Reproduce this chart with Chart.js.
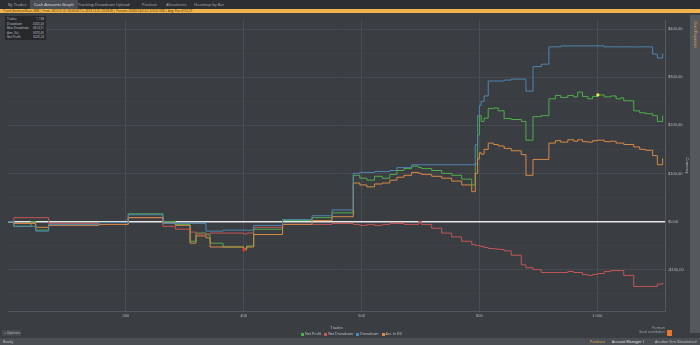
<!DOCTYPE html>
<html>
<head>
<meta charset="utf-8">
<script src="https://cdn.jsdelivr.net/npm/chart.js@4.4.0/dist/chart.umd.min.js"></script>
<style>
body { margin: 0; width: 700px; height: 345px; background: #3a3d42; overflow: hidden; position: relative; font-family: "Open Sans", Roboto, sans-serif; color: #c4c7cb; }
.tabs { position: absolute; left: 0; top: 0; width: 700px; height: 9px; background: #2c2e32; font-size: 4px; }
.tabs span { position: absolute; top: 0; height: 9px; line-height: 9px; padding: 0 4px; color: #b3b6ba; white-space: nowrap; }
.tabs span.on { background: #4a4d53; color: #e4e6e8; }
.bar { position: absolute; left: 0; top: 9px; width: 700px; height: 4px; background: #f1b44c; font-size: 3px; line-height: 4px; color: #3a2a10; padding-left: 3px; box-sizing: border-box; white-space: nowrap; }
.stats { position: absolute; left: 5px; top: 16px; width: 41px; height: 24px; background: #26282c; font-size: 3px; z-index: 2; padding-top: 1px; box-sizing: border-box; }
.stats div { display: flex; justify-content: space-between; padding: 0 2px; line-height: 4.5px; white-space: nowrap; }
.side { position: absolute; left: 690px; top: 15px; width: 10px; height: 318px; background: #55585d; }
.side span { position: absolute; left: 3px; top: 6px; writing-mode: vertical-rl; font-size: 3.5px; color: #f1b44c; white-space: nowrap; }
#wrap { position: absolute; left: 4px; top: 15px; width: 686px; height: 315px; }
.legend { position: absolute; left: 298px; top: 331px; font-size: 3.6px; color: #c4c7cb; white-space: nowrap; }
.legend i { display: inline-block; width: 3px; height: 3px; margin: 0 1px 0 3px; vertical-align: middle; }
.opt { position: absolute; left: 2px; top: 330px; width: 17px; height: 6px; background: #46494e; font-size: 3.6px; line-height: 6px; padding-left: 2px; white-space: nowrap; }
.badge { position: absolute; left: 620px; top: 327px; font-size: 3px; color: #a9acb0; text-align: right; width: 45px; line-height: 3.6px; white-space: nowrap; }
.ico { position: absolute; left: 667px; top: 330px; width: 5px; height: 6px; background: #e8772e; }
.status { position: absolute; left: 0; top: 338px; width: 700px; height: 7px; background: #4b4e53; font-size: 3.6px; line-height: 7px; }
.status span { position: absolute; top: 0; white-space: nowrap; }
</style>
</head>
<body>
<div class="tabs">
  <span style="left:4px">By Trades</span>
  <span class="on" style="left:30px">Cash Amounts Graph</span>
  <span style="left:74px">Tracking Drawdown</span>
  <span style="left:112px">Upload</span>
  <span style="left:138px">Position</span>
  <span style="left:162px">Allocations</span>
  <span style="left:190px">Heatmap by Bar</span>
</div>
<div class="bar">Trend_BacktestSheet 30M | From: 2015.01.01 00:00:00 To: 2019.12.31 23:59:00 | Params: 20/60/14/2.5/1.5/0.5/1000 | Avg. Pos: $152,37</div>
<div class="stats">
  <div><span>Trades</span><span>1 108</span></div>
  <div><span>Drawdown</span><span>-$263,43</span></div>
  <div><span>Max Drawdown</span><span>-$614,31</span></div>
  <div><span>Ann. Vol</span><span>$370,45</span></div>
  <div><span>Net Profit</span><span>$220,24</span></div>
</div>
<div id="wrap"><canvas id="chartProfit"></canvas></div>
<div class="side"><span>Chart Properties</span></div>
<div class="opt">+ Options</div>
<div class="legend"><i style="background:#4fae4b"></i>Net Profit<i style="background:#c45656"></i>Net Drawdown<i style="background:#4f86b0"></i>Drawdown<i style="background:#d88a45"></i>Act. In DD</div>
<div class="badge">Premium<br>Good contribution</div>
<div class="ico"></div>
<div class="status">
  <span style="left:3px">Ready</span>
  <span style="left:590px;color:#f1b44c">Positions</span>
  <span style="left:612px;color:#e4e6e8">Account Manager 1</span>
  <span style="left:655px">Another Sim (Simulation)</span>
</div>
<script>
// trade number at each sample
const trades = [0, 10, 39, 47, 69, 154, 204, 263, 284, 309, 319, 336, 343, 365, 400, 405, 417, 466, 516, 550,
  586, 597, 609, 622, 635, 648, 660, 672, 685, 697, 702, 719, 736, 753, 770, 787, 793, 797, 800, 803,
  808, 815, 824, 832, 842, 854, 871, 879, 891, 905, 918, 929, 938, 950, 960, 967, 975, 984, 992, 1001,
  1012, 1023, 1032, 1040, 1045, 1062, 1072, 1082, 1094, 1102, 1111];

const blueValues = [0, -10, -10, -20, -6, -2, 14, -4, -4, -4, -4, -20, -20, -18, -18, -18, -8, 4, 12, 24,
  100, 102, 102, 104, 104, 106, 112, 112, 118, 118, 118, 118, 118, 118, 118, 118, 160, 220, 241, 250,
  261, 292, 292, 292, 294, 296, 296, 271, 322, 327, 363, 363, 365, 365, 365, 365, 365, 365, 365, 365,
  363, 363, 363, 363, 363, 363, 363, 363, 348, 340, 349];

const greenValues = [0, -10, 0, -18, -6, -2, 16, 0, -6, -41, -24, -28, -45, -53, -59, -51, -16, 2, 8, 18,
  96, 90, 86, 94, 90, 98, 106, 110, 115, 112, 110, 106, 100, 96, 88, 76, 120, 180, 220, 208,
  215, 235, 236, 230, 214, 212, 208, 169, 218, 220, 255, 262, 258, 262, 259, 269, 260, 255, 260, 263,
  259, 261, 255, 257, 251, 230, 226, 224, 220, 208, 220];

const orangeValues = [0, -4, -4, -12, -8, -6, 8, -4, -8, -45, -30, -34, -53, -53, -57, -53, -27, -6, 2, 10,
  80, 76, 72, 78, 80, 86, 92, 96, 102, 100, 98, 94, 90, 84, 76, 62, 100, 130, 143, 140,
  150, 163, 160, 157, 152, 147, 139, 96, 129, 129, 163, 168, 165, 170, 167, 170, 166, 165, 168, 169,
  166, 167, 163, 163, 160, 155, 150, 148, 137, 118, 131];

const redValues = [0, 8, 8, 8, -4, -6, 8, -10, -16, -22, -26, -26, -24, -24, -26, -24, -12, -6, -6, -4,
  -6, -8, -6, -8, -6, -4, -4, -6, -6, 0, -6, -14, -24, -32, -41, -48, -50, -50, -51, -52,
  -54, -56, -57, -58, -61, -70, -90, -96, -100, -106, -106, -106, -106, -104, -106, -106, -110, -112, -110, -108,
  -104, -102, -102, -102, -112, -135, -135, -135, -135, -130, -127];

// markers: lowest and highest point of net profit
const markerTrades = [400, 1001];
const markerValues = [-59, 263];

const xTicks = [200, 400, 600, 800, 1000];

function points(values) {
    return trades.map((t, i) => ({ x: t, y: values[i] }));
}

const lineStyle = { stepped: true, borderWidth: 1, pointRadius: 0, fill: false };

const ctx = document.getElementById('chartProfit').getContext('2d');

const chart = new Chart(ctx, {
    type: 'line',
    data: {
        datasets: [
            { label: 'Markers', type: 'scatter',
              data: markerTrades.map((t, i) => ({ x: t, y: markerValues[i] })),
              pointRadius: 1.6, pointBorderWidth: 0,
              pointBackgroundColor: ['#e03030', '#e8f04a'] },
            Object.assign({ label: 'Drawdown', data: points(blueValues), borderColor: '#4f86b0' }, lineStyle),
            Object.assign({ label: 'Act. In DD', data: points(orangeValues), borderColor: '#d88a45' }, lineStyle),
            Object.assign({ label: 'Net Drawdown', data: points(redValues), borderColor: '#c45656' }, lineStyle),
            Object.assign({ label: 'Net Profit', data: points(greenValues), borderColor: '#4fae4b' }, lineStyle)
        ]
    },
    options: {
        responsive: true,
        maintainAspectRatio: false,
        animation: false,
        layout: { padding: 0 },
        plugins: {
            legend: { display: false },
            tooltip: { enabled: false }
        },
        scales: {
            x: {
                type: 'linear',
                min: 0,
                max: 1115,
                grid: { color: '#4a4d53', drawTicks: false },
                border: { color: '#55585e' },
                afterBuildTicks: s => { s.ticks = xTicks.map(v => ({ value: v })); },
                ticks: {
                    color: '#b5b8bc',
                    font: { size: 4 },
                    padding: 2,
                    maxRotation: 0,
                    callback: v => v >= 1000 ? '1 000' : String(v)
                },
                title: { display: true, text: 'Trades', color: '#b5b8bc', font: { size: 4 }, padding: 0, align: 'center' },
                afterFit: s => { s.height = 19; }
            },
            y: {
                position: 'right',
                min: -186,
                max: 418,
                grid: {
                    drawTicks: false,
                    color: c => c.tick.value === 0 ? '#e8e8e8' : (c.tick.value % 100 === 0 ? '#46494f' : '#3f4247'),
                    lineWidth: c => c.tick.value === 0 ? 1.5 : 1
                },
                border: { color: '#55585e' },
                afterBuildTicks: s => {
                    const list = [];
                    for (let v = -150; v <= 400; v += 50) list.push({ value: v });
                    s.ticks = list;
                },
                ticks: {
                    color: '#b5b8bc',
                    font: { size: 4 },
                    padding: 3,
                    callback: v => v % 100 === 0 ? (v < 0 ? '-$' + Math.abs(v) + ',00' : '$' + v + ',00') : ''
                },
                title: { display: true, text: 'Currency', color: '#b5b8bc', font: { size: 4 }, padding: 0 },
                afterFit: s => { s.width = 25; }
            }
        }
    }
});
</script>
</body>
</html>
